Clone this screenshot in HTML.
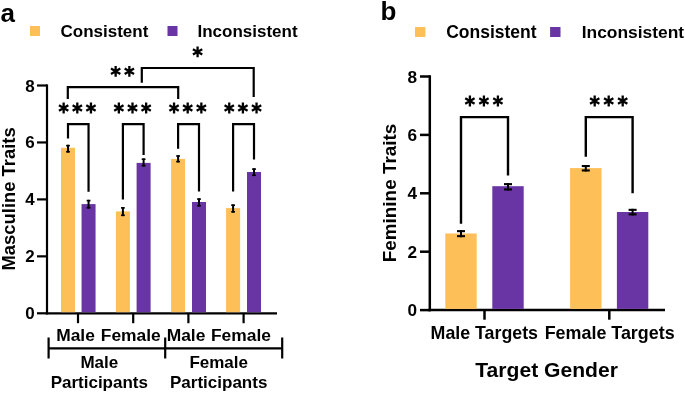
<!DOCTYPE html>
<html><head><meta charset="utf-8"><style>
html,body{margin:0;padding:0;background:#fff;}
svg{display:block;will-change:transform;}
text{font-family:"Liberation Sans",sans-serif;font-weight:bold;fill:#000;}
</style></head><body>
<svg width="685" height="394" viewBox="0 0 685 394">
<text x="0.5" y="22.3" font-size="26" text-anchor="start" >a</text>
<rect x="30" y="26" width="10" height="10" fill="#FDBF58"/>
<text x="60.5" y="36.5" font-size="17" text-anchor="start" >Consistent</text>
<rect x="167.5" y="26" width="10" height="10" fill="#6934A4"/>
<text x="197.5" y="36.5" font-size="17" text-anchor="start" >Inconsistent</text>
<line x1="47.0" y1="84.4" x2="47.0" y2="314.40000000000003" stroke="#000" stroke-width="2.2" stroke-linecap="butt"/>
<line x1="37" y1="313.3" x2="47.0" y2="313.3" stroke="#000" stroke-width="2.2" stroke-linecap="butt"/>
<text x="34.6" y="319.3" font-size="17" text-anchor="end" >0</text>
<line x1="37" y1="256.35" x2="47.0" y2="256.35" stroke="#000" stroke-width="2.2" stroke-linecap="butt"/>
<text x="34.6" y="262.35" font-size="17" text-anchor="end" >2</text>
<line x1="37" y1="199.4" x2="47.0" y2="199.4" stroke="#000" stroke-width="2.2" stroke-linecap="butt"/>
<text x="34.6" y="205.4" font-size="17" text-anchor="end" >4</text>
<line x1="37" y1="142.45" x2="47.0" y2="142.45" stroke="#000" stroke-width="2.2" stroke-linecap="butt"/>
<text x="34.6" y="148.45" font-size="17" text-anchor="end" >6</text>
<line x1="37" y1="85.5" x2="47.0" y2="85.5" stroke="#000" stroke-width="2.2" stroke-linecap="butt"/>
<text x="34.6" y="91.5" font-size="17" text-anchor="end" >8</text>
<line x1="45.9" y1="313.3" x2="277" y2="313.3" stroke="#000" stroke-width="2.2" stroke-linecap="butt"/>
<line x1="78.0" y1="313.3" x2="78.0" y2="323.2" stroke="#000" stroke-width="2.2" stroke-linecap="butt"/>
<line x1="133.2" y1="313.3" x2="133.2" y2="323.2" stroke="#000" stroke-width="2.2" stroke-linecap="butt"/>
<line x1="188.4" y1="313.3" x2="188.4" y2="323.2" stroke="#000" stroke-width="2.2" stroke-linecap="butt"/>
<line x1="243.6" y1="313.3" x2="243.6" y2="323.2" stroke="#000" stroke-width="2.2" stroke-linecap="butt"/>
<rect x="61.0" y="147.8" width="14" height="164.4" fill="#FDBF58"/>
<rect x="81.55" y="204.1" width="14" height="108.10000000000002" fill="#6934A4"/>
<line x1="68.0" y1="144.85" x2="68.0" y2="152.54999999999998" stroke="#000" stroke-width="2.0" stroke-linecap="butt"/>
<line x1="66.1" y1="145.65" x2="69.9" y2="145.65" stroke="#000" stroke-width="1.6" stroke-linecap="butt"/>
<line x1="66.1" y1="151.74999999999997" x2="69.9" y2="151.74999999999997" stroke="#000" stroke-width="1.6" stroke-linecap="butt"/>
<line x1="88.55" y1="199.8" x2="88.55" y2="208.5" stroke="#000" stroke-width="2.0" stroke-linecap="butt"/>
<line x1="86.64999999999999" y1="200.60000000000002" x2="90.45" y2="200.60000000000002" stroke="#000" stroke-width="1.6" stroke-linecap="butt"/>
<line x1="86.64999999999999" y1="207.7" x2="90.45" y2="207.7" stroke="#000" stroke-width="1.6" stroke-linecap="butt"/>
<polyline points="68.0,138.5 68.0,124.1 88.55,124.1 88.55,191.7" fill="none" stroke="#000" stroke-width="2.2" stroke-linejoin="miter" stroke-linecap="butt"/>
<path d="M63.65,102.60L63.65,113.40M58.97,105.30L68.33,110.70M68.33,105.30L58.97,110.70" stroke="#000" stroke-width="2.3" fill="none"/>
<path d="M77.30,102.60L77.30,113.40M72.62,105.30L81.98,110.70M81.98,105.30L72.62,110.70" stroke="#000" stroke-width="2.3" fill="none"/>
<path d="M90.95,102.60L90.95,113.40M86.27,105.30L95.63,110.70M95.63,105.30L86.27,110.70" stroke="#000" stroke-width="2.3" fill="none"/>
<rect x="115.9" y="211.4" width="14" height="100.80000000000001" fill="#FDBF58"/>
<rect x="136.6" y="162.9" width="14" height="149.3" fill="#6934A4"/>
<line x1="122.9" y1="207.1" x2="122.9" y2="216.1" stroke="#000" stroke-width="2.0" stroke-linecap="butt"/>
<line x1="121.0" y1="207.9" x2="124.80000000000001" y2="207.9" stroke="#000" stroke-width="1.6" stroke-linecap="butt"/>
<line x1="121.0" y1="215.29999999999998" x2="124.80000000000001" y2="215.29999999999998" stroke="#000" stroke-width="1.6" stroke-linecap="butt"/>
<line x1="143.6" y1="158.39999999999998" x2="143.6" y2="166.5" stroke="#000" stroke-width="2.0" stroke-linecap="butt"/>
<line x1="141.7" y1="159.2" x2="145.5" y2="159.2" stroke="#000" stroke-width="1.6" stroke-linecap="butt"/>
<line x1="141.7" y1="165.7" x2="145.5" y2="165.7" stroke="#000" stroke-width="1.6" stroke-linecap="butt"/>
<polyline points="122.9,199.4 122.9,124.1 143.6,124.1 143.6,155.1" fill="none" stroke="#000" stroke-width="2.2" stroke-linejoin="miter" stroke-linecap="butt"/>
<path d="M118.85,102.60L118.85,113.40M114.17,105.30L123.53,110.70M123.53,105.30L114.17,110.70" stroke="#000" stroke-width="2.3" fill="none"/>
<path d="M132.50,102.60L132.50,113.40M127.82,105.30L137.18,110.70M137.18,105.30L127.82,110.70" stroke="#000" stroke-width="2.3" fill="none"/>
<path d="M146.15,102.60L146.15,113.40M141.47,105.30L150.83,110.70M150.83,105.30L141.47,110.70" stroke="#000" stroke-width="2.3" fill="none"/>
<rect x="171.1" y="158.9" width="14" height="153.3" fill="#FDBF58"/>
<rect x="192.0" y="202.0" width="14" height="110.20000000000002" fill="#6934A4"/>
<line x1="178.1" y1="155.20000000000002" x2="178.1" y2="162.4" stroke="#000" stroke-width="2.0" stroke-linecap="butt"/>
<line x1="176.2" y1="156.00000000000003" x2="180.0" y2="156.00000000000003" stroke="#000" stroke-width="1.6" stroke-linecap="butt"/>
<line x1="176.2" y1="161.6" x2="180.0" y2="161.6" stroke="#000" stroke-width="1.6" stroke-linecap="butt"/>
<line x1="199.0" y1="198.3" x2="199.0" y2="206.5" stroke="#000" stroke-width="2.0" stroke-linecap="butt"/>
<line x1="197.1" y1="199.10000000000002" x2="200.9" y2="199.10000000000002" stroke="#000" stroke-width="1.6" stroke-linecap="butt"/>
<line x1="197.1" y1="205.7" x2="200.9" y2="205.7" stroke="#000" stroke-width="1.6" stroke-linecap="butt"/>
<polyline points="178.1,148.75 178.1,124.1 199.0,124.1 199.0,191.5" fill="none" stroke="#000" stroke-width="2.2" stroke-linejoin="miter" stroke-linecap="butt"/>
<path d="M174.05,102.60L174.05,113.40M169.37,105.30L178.73,110.70M178.73,105.30L169.37,110.70" stroke="#000" stroke-width="2.3" fill="none"/>
<path d="M187.70,102.60L187.70,113.40M183.02,105.30L192.38,110.70M192.38,105.30L183.02,110.70" stroke="#000" stroke-width="2.3" fill="none"/>
<path d="M201.35,102.60L201.35,113.40M196.67,105.30L206.03,110.70M206.03,105.30L196.67,110.70" stroke="#000" stroke-width="2.3" fill="none"/>
<rect x="226.1" y="208.1" width="14" height="104.10000000000002" fill="#FDBF58"/>
<rect x="247.0" y="172.0" width="14" height="140.20000000000002" fill="#6934A4"/>
<line x1="233.1" y1="204.4" x2="233.1" y2="212.6" stroke="#000" stroke-width="2.0" stroke-linecap="butt"/>
<line x1="231.2" y1="205.20000000000002" x2="235.0" y2="205.20000000000002" stroke="#000" stroke-width="1.6" stroke-linecap="butt"/>
<line x1="231.2" y1="211.79999999999998" x2="235.0" y2="211.79999999999998" stroke="#000" stroke-width="1.6" stroke-linecap="butt"/>
<line x1="254.0" y1="168.29999999999998" x2="254.0" y2="176.1" stroke="#000" stroke-width="2.0" stroke-linecap="butt"/>
<line x1="252.1" y1="169.1" x2="255.9" y2="169.1" stroke="#000" stroke-width="1.6" stroke-linecap="butt"/>
<line x1="252.1" y1="175.29999999999998" x2="255.9" y2="175.29999999999998" stroke="#000" stroke-width="1.6" stroke-linecap="butt"/>
<polyline points="233.1,191.6 233.1,124.1 254.0,124.1 254.0,159.6" fill="none" stroke="#000" stroke-width="2.2" stroke-linejoin="miter" stroke-linecap="butt"/>
<path d="M229.25,102.60L229.25,113.40M224.57,105.30L233.93,110.70M233.93,105.30L224.57,110.70" stroke="#000" stroke-width="2.3" fill="none"/>
<path d="M242.90,102.60L242.90,113.40M238.22,105.30L247.58,110.70M247.58,105.30L238.22,110.70" stroke="#000" stroke-width="2.3" fill="none"/>
<path d="M256.55,102.60L256.55,113.40M251.87,105.30L261.23,110.70M261.23,105.30L251.87,110.70" stroke="#000" stroke-width="2.3" fill="none"/>
<polyline points="67.8,99 67.8,87.2 178.2,87.2 178.2,99" fill="none" stroke="#000" stroke-width="2.2" stroke-linejoin="miter" stroke-linecap="butt"/>
<path d="M115.65,65.90L115.65,76.70M110.97,68.60L120.33,74.00M120.33,68.60L110.97,74.00" stroke="#000" stroke-width="2.3" fill="none"/>
<path d="M129.35,65.90L129.35,76.70M124.67,68.60L134.03,74.00M134.03,68.60L124.67,74.00" stroke="#000" stroke-width="2.3" fill="none"/>
<polyline points="141.8,82.8 141.8,68 253.7,68 253.7,97.1" fill="none" stroke="#000" stroke-width="2.2" stroke-linejoin="miter" stroke-linecap="butt"/>
<path d="M197.60,46.50L197.60,57.30M192.92,49.20L202.28,54.60M202.28,49.20L192.92,54.60" stroke="#000" stroke-width="2.3" fill="none"/>
<text x="56.2" y="341.2" font-size="17.4" text-anchor="start" >Male</text>
<text x="100.8" y="341.2" font-size="17.4" text-anchor="start" >Female</text>
<text x="166.7" y="341.2" font-size="17.4" text-anchor="start" >Male</text>
<text x="211.0" y="341.2" font-size="17.4" text-anchor="start" >Female</text>
<line x1="48.6" y1="348.3" x2="282.2" y2="348.3" stroke="#000" stroke-width="2.2" stroke-linecap="butt"/>
<line x1="48.6" y1="337.5" x2="48.6" y2="358.5" stroke="#000" stroke-width="2.2" stroke-linecap="butt"/>
<line x1="165.2" y1="337.5" x2="165.2" y2="358.5" stroke="#000" stroke-width="2.2" stroke-linecap="butt"/>
<line x1="282.2" y1="337.5" x2="282.2" y2="358.5" stroke="#000" stroke-width="2.2" stroke-linecap="butt"/>
<text x="99.3" y="368.3" font-size="17" text-anchor="middle" >Male</text>
<text x="99.3" y="387.5" font-size="17" text-anchor="middle" >Participants</text>
<text x="218.7" y="368.3" font-size="17" text-anchor="middle" >Female</text>
<text x="218.7" y="387.5" font-size="17" text-anchor="middle" >Participants</text>
<text x="0" y="0" font-size="18.4" text-anchor="middle" transform="translate(15.0,198.9) rotate(-90)">Masculine Traits</text>
<text x="380.5" y="20.2" font-size="26" text-anchor="start" >b</text>
<rect x="415" y="27" width="10.4" height="10" fill="#FDBF58"/>
<text x="446.2" y="37.5" font-size="17.5" text-anchor="start" >Consistent</text>
<rect x="550.1" y="27" width="10.4" height="10" fill="#6934A4"/>
<text x="581.7" y="37.5" font-size="17.4" text-anchor="start" >Inconsistent</text>
<line x1="429.8" y1="75.25" x2="429.8" y2="311.35" stroke="#000" stroke-width="2.5" stroke-linecap="butt"/>
<line x1="420" y1="310.1" x2="429.8" y2="310.1" stroke="#000" stroke-width="2.5" stroke-linecap="butt"/>
<text x="417.0" y="316.20000000000005" font-size="17.2" text-anchor="end" >0</text>
<line x1="420" y1="251.70000000000002" x2="429.8" y2="251.70000000000002" stroke="#000" stroke-width="2.5" stroke-linecap="butt"/>
<text x="417.0" y="257.8" font-size="17.2" text-anchor="end" >2</text>
<line x1="420" y1="193.3" x2="429.8" y2="193.3" stroke="#000" stroke-width="2.5" stroke-linecap="butt"/>
<text x="417.0" y="199.4" font-size="17.2" text-anchor="end" >4</text>
<line x1="420" y1="134.9" x2="429.8" y2="134.9" stroke="#000" stroke-width="2.5" stroke-linecap="butt"/>
<text x="417.0" y="141.0" font-size="17.2" text-anchor="end" >6</text>
<line x1="420" y1="76.5" x2="429.8" y2="76.5" stroke="#000" stroke-width="2.5" stroke-linecap="butt"/>
<text x="417.0" y="82.6" font-size="17.2" text-anchor="end" >8</text>
<line x1="428.55" y1="310.1" x2="665" y2="310.1" stroke="#000" stroke-width="2.5" stroke-linecap="butt"/>
<line x1="484.5" y1="310.1" x2="484.5" y2="319.7" stroke="#000" stroke-width="2.5" stroke-linecap="butt"/>
<line x1="609.3" y1="310.1" x2="609.3" y2="319.7" stroke="#000" stroke-width="2.5" stroke-linecap="butt"/>
<rect x="445.3" y="233.5" width="31.4" height="75.40000000000002" fill="#FDBF58"/>
<rect x="492.3" y="186.2" width="31.4" height="122.70000000000003" fill="#6934A4"/>
<line x1="461.0" y1="230.1" x2="461.0" y2="237.20000000000002" stroke="#000" stroke-width="2.0" stroke-linecap="butt"/>
<line x1="457.0" y1="231.15" x2="465.0" y2="231.15" stroke="#000" stroke-width="2.1" stroke-linecap="butt"/>
<line x1="457.0" y1="236.15" x2="465.0" y2="236.15" stroke="#000" stroke-width="2.1" stroke-linecap="butt"/>
<line x1="508.0" y1="183.10000000000002" x2="508.0" y2="190.5" stroke="#000" stroke-width="2.0" stroke-linecap="butt"/>
<line x1="504.0" y1="184.15000000000003" x2="512.0" y2="184.15000000000003" stroke="#000" stroke-width="2.1" stroke-linecap="butt"/>
<line x1="504.0" y1="189.45" x2="512.0" y2="189.45" stroke="#000" stroke-width="2.1" stroke-linecap="butt"/>
<polyline points="461.0,223.7 461.0,117.1 508.0,117.1 508.0,175.6" fill="none" stroke="#000" stroke-width="2.4" stroke-linejoin="miter" stroke-linecap="butt"/>
<path d="M469.90,95.60L469.90,106.40M465.22,98.30L474.58,103.70M474.58,98.30L465.22,103.70" stroke="#000" stroke-width="2.3" fill="none"/>
<path d="M483.90,95.60L483.90,106.40M479.22,98.30L488.58,103.70M488.58,98.30L479.22,103.70" stroke="#000" stroke-width="2.3" fill="none"/>
<path d="M497.90,95.60L497.90,106.40M493.22,98.30L502.58,103.70M502.58,98.30L493.22,103.70" stroke="#000" stroke-width="2.3" fill="none"/>
<rect x="570.0999999999999" y="168.1" width="31.4" height="140.80000000000004" fill="#FDBF58"/>
<rect x="616.9" y="212.0" width="31.4" height="96.90000000000002" fill="#6934A4"/>
<line x1="585.8" y1="165.0" x2="585.8" y2="171.5" stroke="#000" stroke-width="2.0" stroke-linecap="butt"/>
<line x1="581.8" y1="166.05" x2="589.8" y2="166.05" stroke="#000" stroke-width="2.1" stroke-linecap="butt"/>
<line x1="581.8" y1="170.45" x2="589.8" y2="170.45" stroke="#000" stroke-width="2.1" stroke-linecap="butt"/>
<line x1="632.6" y1="208.79999999999998" x2="632.6" y2="215.4" stroke="#000" stroke-width="2.0" stroke-linecap="butt"/>
<line x1="628.6" y1="209.85" x2="636.6" y2="209.85" stroke="#000" stroke-width="2.1" stroke-linecap="butt"/>
<line x1="628.6" y1="214.35" x2="636.6" y2="214.35" stroke="#000" stroke-width="2.1" stroke-linecap="butt"/>
<polyline points="585.8,156.7 585.8,117.1 632.6,117.1 632.6,193.2" fill="none" stroke="#000" stroke-width="2.4" stroke-linejoin="miter" stroke-linecap="butt"/>
<path d="M594.70,95.60L594.70,106.40M590.02,98.30L599.38,103.70M599.38,98.30L590.02,103.70" stroke="#000" stroke-width="2.3" fill="none"/>
<path d="M608.70,95.60L608.70,106.40M604.02,98.30L613.38,103.70M613.38,98.30L604.02,103.70" stroke="#000" stroke-width="2.3" fill="none"/>
<path d="M622.70,95.60L622.70,106.40M618.02,98.30L627.38,103.70M627.38,98.30L618.02,103.70" stroke="#000" stroke-width="2.3" fill="none"/>
<text x="430.6" y="338.7" font-size="17.8" text-anchor="start" >Male Targets</text>
<text x="544.7" y="338.7" font-size="17.9" text-anchor="start" >Female Targets</text>
<text x="475.3" y="376.8" font-size="21.1" text-anchor="start" >Target Gender</text>
<text x="0" y="0" font-size="18.9" text-anchor="middle" transform="translate(396.4,193.0) rotate(-90)">Feminine Traits</text>
</svg>
</body></html>
